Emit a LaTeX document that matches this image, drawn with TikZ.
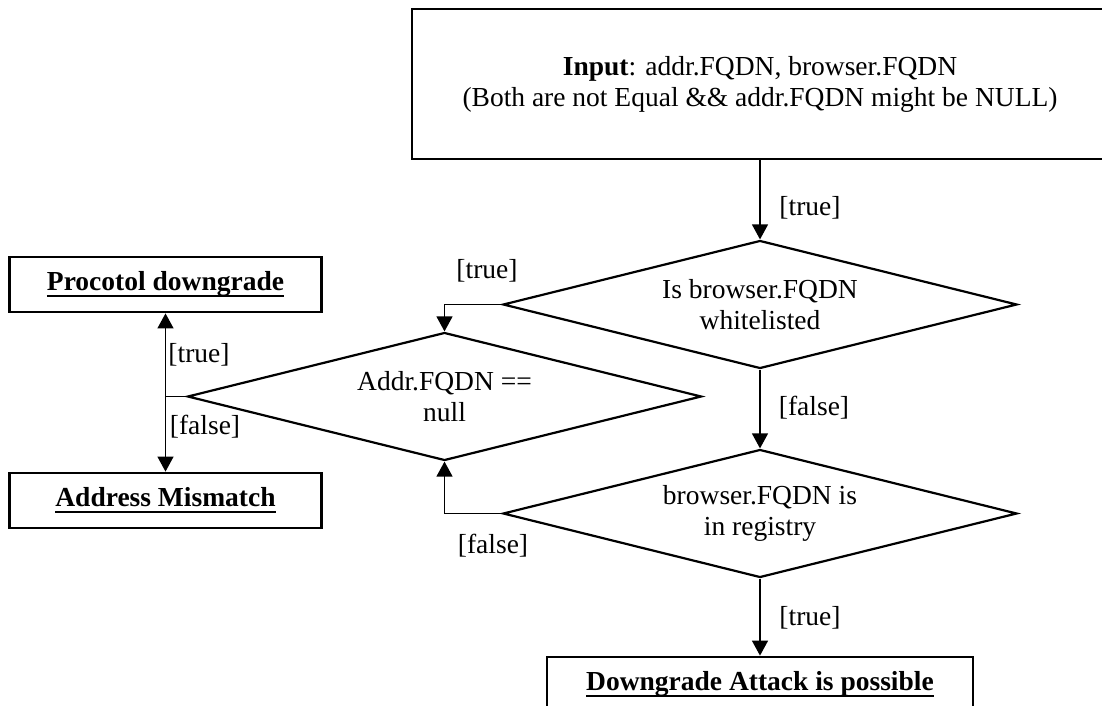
\documentclass[tikz,border=0pt]{standalone}
\usepackage{fontspec}
\setmainfont{Liberation Serif}
\usetikzlibrary{shapes.geometric,arrows.meta}

% underline at a fixed depth below the baseline, crossing descenders
\newcommand{\undl}[1]{\setbox0\hbox{#1}\rlap{\rule[-3.3pt]{\wd0}{1pt}}\box0}

\tikzset{
  txt/.style={font=\fontsize{13.75pt}{15.5pt}\selectfont, align=center, inner sep=0pt},
  box/.style={txt, draw, line width=1.4pt, rectangle},
  decision/.style={txt, draw, line width=1.1pt, diamond, aspect=4,
                   minimum width=257pt, minimum height=64pt},
  flow/.style={line width=0.65pt, -{Triangle[length=7.5pt,width=8pt]}},
  link/.style={line width=0.65pt},
  lbl/.style={txt}
}

\begin{document}
\begin{tikzpicture}[x=0.5pt,y=-0.5pt]
  \useasboundingbox (0,0) rectangle (1102,706);
  \clip (0,0) rectangle (1102,706);

  % start box
  \node[box, minimum width=348pt, minimum height=75pt] (input) at (760,84)
    {\textbf{Input}: addr.FQDN, browser.FQDN\\(Both are not Equal \&\& addr.FQDN might be NULL)};

  % decisions
  \node[decision] (white) at (760,304.5) {Is browser.FQDN\\whitelisted};
  \node[decision] (isnull) at (444.5,396.5) {Addr.FQDN ==\\null};
  \node[decision] (reg) at (760,513.5) {browser.FQDN is\\in registry};

  % outcomes
  \node[box, minimum width=156pt, minimum height=27.5pt] (proto) at (165.5,284.5)
    {\undl{\textbf{Procotol downgrade}}};
  \node[box, minimum width=156pt, minimum height=27.5pt] (mismatch) at (165.5,500.5)
    {\undl{\textbf{Address Mismatch}}};
  \node[box, minimum width=213pt, minimum height=27.5pt] (attack) at (760,684.5)
    {\undl{\textbf{Downgrade Attack is possible}}};

  % bend points
  \coordinate (wbend) at (444.5,304.5);
  \coordinate (rbend) at (444.5,513.5);
  \coordinate (split) at (165.5,396.5);

  % connectors
  \draw[flow] (input.south) -- (white.north);
  \draw[flow] (white.west) -- (wbend) -- (isnull.north);
  \draw[flow] (white.south) -- (reg.north);
  \draw[flow] (reg.west) -- (rbend) -- (isnull.south);
  \draw[link] (isnull.west) -- (split);
  \draw[flow] (split) -- (proto.south);
  \draw[flow] (split) -- (mismatch.north);
  \draw[flow] (reg.south) -- (attack.north);

  % branch labels
  \node[lbl] (l1) at (810,208) {[true]};
  \node[lbl] (l2) at (487,271) {[true]};
  \node[lbl] (l3) at (199,355) {[true]};
  \node[lbl] (l4) at (205,427) {[false]};
  \node[lbl] (l5) at (814,408) {[false]};
  \node[lbl] (l6) at (493,546) {[false]};
  \node[lbl] (l7) at (810,618) {[true]};
\end{tikzpicture}
\end{document}
